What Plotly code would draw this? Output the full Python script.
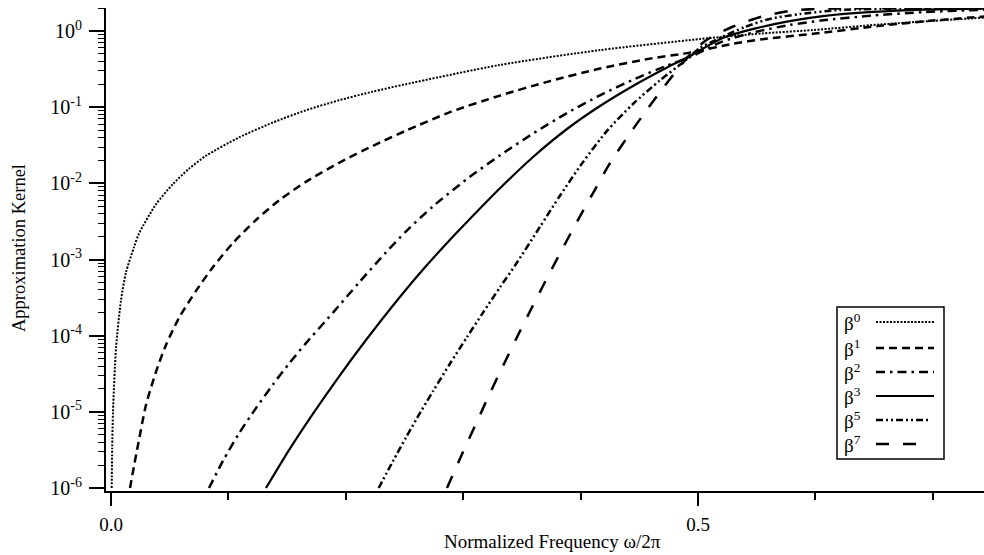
import plotly.graph_objects as go

# ---------------- data ----------------
names = ["β<sup>0</sup>", "β<sup>1</sup>", "β<sup>2</sup>", "β<sup>3</sup>", "β<sup>5</sup>", "β<sup>7</sup>"]

x_b0 = [0.0006, 0.0010, 0.0017, 0.0043, 0.0085, 0.0128, 0.0196, 0.0239, 0.0383, 0.0528, 0.0664, 0.0809,
        0.109, 0.138, 0.166, 0.194, 0.223, 0.251, 0.331, 0.417, 0.502, 0.555, 0.598, 0.655, 0.700, 0.744]
y_b0 = [1.0e-6, 3.3e-6, 1.0e-5, 7.0e-5, 2.9e-4, 6.8e-4, 1.45e-3, 2.2e-3, 5.3e-3, 9.8e-3, 1.55e-2, 2.3e-2,
        4.0e-2, 6.3e-2, 9.1e-2, 0.123, 0.160, 0.200, 0.358, 0.563, 0.785, 0.93, 1.03, 1.22, 1.36, 1.50]

x_b1 = [0.0162, 0.0196, 0.0230, 0.0298, 0.0383, 0.0468, 0.0579, 0.0724, 0.0869, 0.1039, 0.1235, 0.1431,
        0.1661, 0.1942, 0.2232, 0.2513, 0.2888, 0.3313, 0.3739, 0.4165, 0.4591, 0.4932,
        0.530, 0.555, 0.598, 0.655, 0.700, 0.744]
y_b1 = [1.0e-6, 1.95e-6, 3.67e-6, 1.23e-5, 3.34e-5, 7.55e-5, 1.71e-4, 3.88e-4, 7.97e-4, 1.65e-3, 3.30e-3, 5.96e-3,
        1.05e-2, 1.86e-2, 3.11e-2, 4.92e-2, 8.61e-2, 0.142, 0.220, 0.321, 0.434, 0.520,
        0.68, 0.78, 0.92, 1.17, 1.37, 1.55]

x_b2 = [0.0835, 0.0954, 0.1090, 0.1235, 0.1380, 0.1516, 0.1661, 0.1891, 0.2112, 0.2342, 0.2513, 0.2743,
        0.3032, 0.3313, 0.3595, 0.3884, 0.4165, 0.4446, 0.4736, 0.4932,
        0.520, 0.550, 0.578, 0.6065, 0.649, 0.692, 0.744]
y_b2 = [1.0e-6, 2.28e-6, 5.2e-6, 1.12e-5, 2.29e-5, 4.29e-5, 8.0e-5, 2.01e-4, 4.97e-4, 1.24e-3, 2.34e-3, 5.0e-3,
        1.14e-2, 2.33e-2, 4.51e-2, 8.36e-2, 0.143, 0.229, 0.352, 0.453,
        0.72, 0.98, 1.20, 1.38, 1.60, 1.77, 1.90]

x_b3 = [0.1320, 0.1516, 0.1721, 0.1942, 0.2172, 0.2402, 0.2632, 0.2862, 0.3032, 0.3313, 0.3595, 0.3884,
        0.4165, 0.4446, 0.4736, 0.4932, 0.521, 0.550, 0.578, 0.6065, 0.649, 0.692, 0.744]
y_b3 = [1.0e-6, 3.15e-6, 9.5e-6, 2.91e-5, 8.77e-5, 2.49e-4, 6.65e-4, 1.65e-3, 3.11e-3, 8.61e-3, 2.22e-2, 5.17e-2,
        0.1036, 0.190, 0.332, 0.470, 0.81, 1.09, 1.35, 1.57, 1.78, 1.91, 1.97]

x_b5 = [0.228, 0.2402, 0.2513, 0.2606, 0.2743, 0.2888, 0.3032, 0.3169, 0.3313, 0.3458, 0.3654, 0.3825,
        0.402, 0.4225, 0.4446, 0.4676, 0.487, 0.5017, 0.5187, 0.540, 0.561, 0.587, 0.621, 0.672, 0.744]
y_b5 = [1.0e-6, 2.26e-6, 4.62e-6, 8.24e-6, 1.87e-5, 4.31e-5, 9.57e-5, 2.01e-4, 4.31e-4, 9.12e-4, 2.69e-3, 6.92e-3,
        1.90e-2, 4.89e-2, 0.110, 0.225, 0.385, 0.60, 0.81, 1.13, 1.44, 1.67, 1.89, 1.97, 1.985]

x_b7 = [0.2862, 0.2998, 0.3118, 0.3228, 0.3339, 0.3458, 0.3569, 0.3714, 0.3850, 0.3969, 0.4106, 0.4250,
        0.4395, 0.4532, 0.4676, 0.4821, 0.4932, 0.506, 0.517, 0.529, 0.5426, 0.5545, 0.578, 0.601, 0.652, 0.744]
y_b7 = [1.0e-6, 2.97e-6, 7.5e-6, 1.76e-5, 4.01e-5, 9.55e-5, 2.09e-4, 5.7e-4, 1.43e-3, 3.13e-3, 7.46e-3, 1.84e-2,
        3.97e-2, 7.89e-2, 0.158, 0.305, 0.489, 0.739, 0.927, 1.128, 1.353, 1.55, 1.83, 1.957, 1.985, 1.99]

xs = [x_b0, x_b1, x_b2, x_b3, x_b5, x_b7]
ys = [y_b0, y_b1, y_b2, y_b3, y_b5, y_b7]

y_tick_vals = [1e-6, 1e-5, 1e-4, 1e-3, 1e-2, 1e-1, 1e0]
y_tick_text = ["10<sup>-6</sup>", "10<sup>-5</sup>", "10<sup>-4</sup>", "10<sup>-3</sup>",
               "10<sup>-2</sup>", "10<sup>-1</sup>", "10<sup>0</sup>"]
x_tick_vals = [0.0, 0.5]
x_tick_text = ["0.0", "0.5"]
x_minor_vals = [0.1, 0.2, 0.3, 0.4, 0.6, 0.7]

# ---------------- styles ----------------
dashes = ["2px,1.5px", "8px,5px", "9px,5px,2.5px,5px", "solid", "7px,3px,2px,3px,2px,3px", "13px,14px"]
widths = [2.0, 2.5, 2.5, 2.2, 2.5, 2.5]
FONT = "Liberation Serif"

fig = go.Figure()
for xv, yv, nm, d, w in zip(xs, ys, names, dashes, widths):
    fig.add_trace(go.Scatter(x=xv, y=yv, mode="lines", name=nm, showlegend=False,
                             line=dict(color="black", width=w, dash=d, shape="spline", smoothing=0.7)))

y_minor = [k * 10.0 ** e for e in range(-6, 1) for k in range(2, 10)]

W, H = 984, 555
L, R, T, B = 106, 0, 8, 64
fig.update_layout(
    width=W, height=H,
    margin=dict(l=L, r=R, t=T, b=B),
    paper_bgcolor="white", plot_bgcolor="white",
    font=dict(family=FONT, size=20, color="black"),
    xaxis=dict(range=[-0.00426, 0.7436], showgrid=False, zeroline=False,
               showline=True, linecolor="black", linewidth=2,
               tickmode="array", tickvals=x_tick_vals, ticktext=x_tick_text,
               ticks="outside", ticklen=13, tickwidth=1.5, tickcolor="black",
               ticklabelstandoff=2, tickfont=dict(size=19),
               minor=dict(tickmode="array", tickvals=x_minor_vals, ticks="outside",
                          ticklen=7, tickwidth=1.5, tickcolor="black", showgrid=False)),
    yaxis=dict(type="log", range=[-6.039, 0.302], showgrid=False, zeroline=False,
               showline=True, linecolor="black", linewidth=2,
               tickmode="array", tickvals=y_tick_vals, ticktext=y_tick_text,
               ticks="outside", ticklen=15, tickwidth=1.5, tickcolor="black",
               ticklabelstandoff=3, tickfont=dict(size=20),
               minor=dict(tickmode="array", tickvals=y_minor, ticks="outside",
                          ticklen=6, tickwidth=1.2, tickcolor="black", showgrid=False)),
)

# axis titles
fig.add_annotation(text="Approximation Kernel", xref="paper", yref="paper",
                   x=(19 - L) / (W - L - R), y=(491 - 248) / (H - T - B), textangle=-90, showarrow=False,
                   xanchor="center", yanchor="middle", font=dict(size=18.5))
fig.add_annotation(text="Normalized Frequency ω/2π", xref="paper", yref="paper",
                   x=(552 - L) / (W - L - R), y=-(541 - (H - B)) / (H - T - B), showarrow=False,
                   xanchor="center", yanchor="middle", font=dict(size=19))

# legend (text left, line sample right, like the reference)
pw, ph = W - L - R, H - T - B
def px2p(px, py):
    return (px - L) / pw, ((H - B) - py) / ph

bx0, by0 = px2p(837, 459)
bx1, by1 = px2p(944, 307)
fig.add_shape(type="rect", xref="paper", yref="paper", x0=bx0, y0=by0, x1=bx1, y1=by1,
              line=dict(color="black", width=1.5), fillcolor="white", layer="above")
row_py = [322, 348, 372, 396, 420, 444]
line_end = [934, 934, 934, 934, 929, 925]
for nm, d, w, py, xe in zip(names, dashes, widths, row_py, line_end):
    tx, ty = px2p(842, py)
    fig.add_annotation(text=nm, xref="paper", yref="paper", x=tx, y=ty, showarrow=False,
                       xanchor="left", yanchor="middle", font=dict(size=19))
    lx0, _ = px2p(876, py)
    lx1, _ = px2p(xe, py)
    fig.add_shape(type="line", xref="paper", yref="paper", x0=lx0, x1=lx1, y0=ty, y1=ty,
                  line=dict(color="black", width=w, dash=d), layer="above")

fig.write_html("out.html")
